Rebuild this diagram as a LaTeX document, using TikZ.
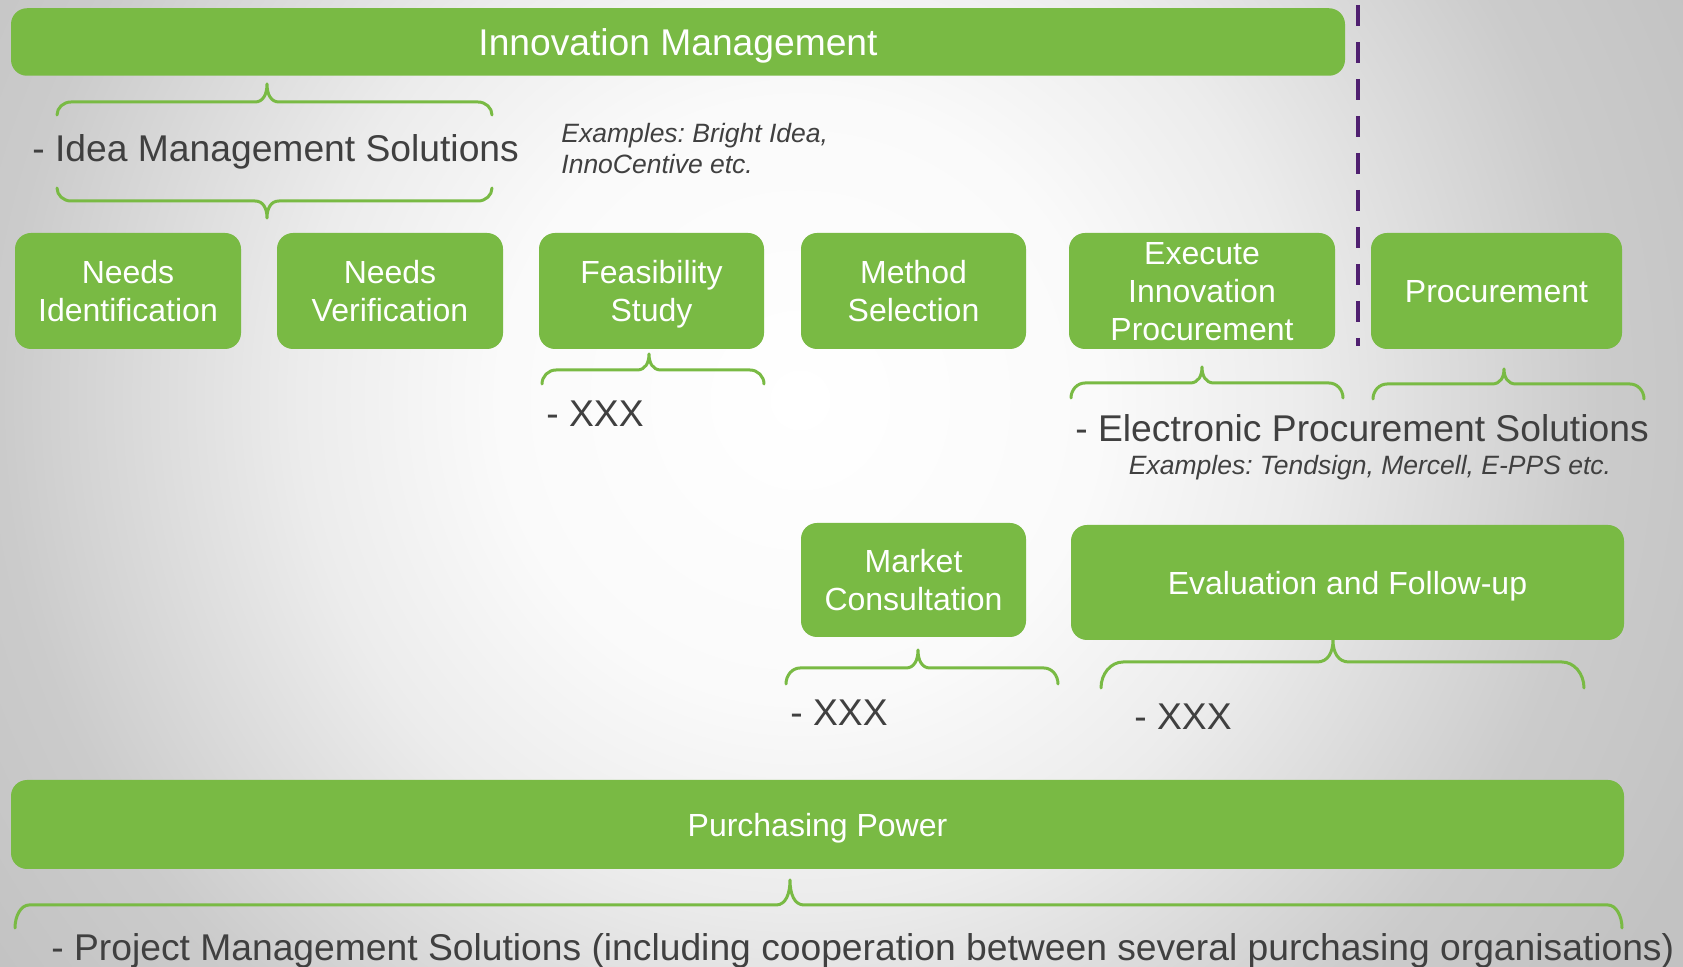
\documentclass[tikz,border=0pt]{standalone}
\usepackage{fontspec}
\setmainfont{Liberation Sans}
\frenchspacing
\definecolor{leaf}{RGB}{121,186,68}
\definecolor{ink}{RGB}{64,64,64}
\definecolor{plum}{RGB}{80,32,112}
\definecolor{bga}{RGB}{255,255,255}
\definecolor{bgb}{RGB}{250,250,250}
\definecolor{bgc}{RGB}{236,236,236}
\definecolor{bgd}{RGB}{203,203,203}
\definecolor{bge}{RGB}{194,194,194}
% the circle's rim sits at 25bp of a radial shading
\pgfdeclareradialshading{backglow}{\pgfpointorigin}{color(0bp)=(bga); color(7.5bp)=(bgb); color(12.5bp)=(bgc); color(20bp)=(bgd); color(25bp)=(bge); color(50bp)=(bge)}

% curly brace: x-left, x-right, x-tip, y-tip, y-bar, y-ends, corner size, cusp size
\newcommand\gbrace[8]{%
  \draw[bracestroke] (#1,#6) .. controls (#1,{#5+0.45*(#6-#5)}) and ({#1+0.45*#7},#5) .. ({#1+#7},#5) -- ({#3-#8},#5)
    .. controls ({#3-0.3*#8},#5) and (#3,{#5+0.45*(#4-#5)}) .. (#3,#4)
    .. controls (#3,{#5+0.45*(#4-#5)}) and ({#3+0.3*#8},#5) .. ({#3+#8},#5)
    -- ({#2-#7},#5) .. controls ({#2-0.45*#7},#5) and (#2,{#5+0.45*(#6-#5)}) .. (#2,#6);}

\tikzset{
  gbox/.style={fill=leaf, draw=none, rounded corners=8pt, text=white, align=center,
    inner sep=0pt, text depth=0pt, font=\fontsize{16}{19}\selectfont},
  boxsize/.style 2 args={minimum width=#1*0.5pt, minimum height=#2*0.5pt},
  bracestroke/.style={draw=leaf, line width=1.5pt, line cap=round, line join=round},
  bigtext/.style={text=ink, inner sep=0pt, font=\fontsize{18.62}{22}\selectfont},
  smalltext/.style={text=ink, inner sep=0pt, align=left, font=\fontsize{13.25}{15.5}\selectfont\itshape},
}

\begin{document}
\begin{tikzpicture}[x=0.5pt, y=-0.5pt]
  \useasboundingbox (0,0) rectangle (1683,967);
  % soft grey backdrop, lighter in the middle
  \begin{scope}
    \clip (0,0) rectangle (1683,967);
    \fill[bge] (0,0) rectangle (1683,967);
    \shade[shading=backglow] (800,400) circle (500pt);
  \end{scope}

  % separator between innovation and ordinary procurement
  \coordinate (sepTop) at (1358,5);
  \coordinate (sepBot) at (1358,346);
  \draw[plum, line width=2pt, dash pattern=on 10.5pt off 8pt] (sepTop) -- (sepBot);

  % top bar
  \node[gbox, boxsize={1334}{67.5}, font=\fontsize{18.6}{22}\selectfont] (innov) at (678,42) {Innovation Management};

  % process steps
  \node[gbox, boxsize={226}{116}] (needsid)  at (128,291)    {Needs\\Identification};
  \node[gbox, boxsize={226}{116}] (needsver) at (390,291)    {Needs\\Verification};
  \node[gbox, boxsize={225}{116}] (feas)     at (651.5,291)  {Feasibility\\Study};
  \node[gbox, boxsize={225}{116}] (method)   at (913.5,291)  {Method\\Selection};
  \node[gbox, boxsize={266}{116}] (execute)  at (1202,291)   {Execute\\Innovation\\Procurement};
  \node[gbox, boxsize={251}{116}] (procure)  at (1496.5,291) {Procurement};

  \node[gbox, boxsize={225}{114}] (market) at (913.5,580)  {Market\\Consultation};
  \node[gbox, boxsize={553}{115}] (evalfu) at (1347.5,582.5) {Evaluation and Follow-up};

  \node[gbox, boxsize={1613}{89}] (power) at (817.5,824.5) {Purchasing Power};

  % braces
  \gbrace{57}{492}{267}{84}{102}{115}{14}{12}
  \gbrace{57}{492}{267}{218}{201}{188}{14}{12}
  \gbrace{542}{764}{649}{354}{370}{384}{14}{12}
  \gbrace{1071}{1343}{1202}{367}{383}{398}{14}{12}
  \gbrace{1373}{1644}{1504}{369}{384}{399}{14}{12}
  \gbrace{786}{1058}{918}{650}{668}{684}{14}{12}
  \gbrace{1101}{1584}{1333}{640}{662}{688}{22}{16}
  \gbrace{15}{1622}{790}{880}{905}{928}{14}{14}

  % annotations
  \node[bigtext, anchor=base west] (idea) at (32,162) {- Idea Management Solutions};
  \node[smalltext, anchor=base west] (ideaex) at (561,174) {Examples: Bright Idea,\\InnoCentive etc.};
  \node[bigtext, anchor=base west] (feasx) at (546,427) {- XXX};
  \node[bigtext, anchor=base west] (eproc) at (1075,442) {- Electronic Procurement Solutions};
  \node[smalltext, anchor=base] (eprocex) at (1370,475) {Examples: Tendsign, Mercell, E-PPS etc.};
  \node[bigtext, anchor=base west] (marketx) at (790,726) {- XXX};
  \node[bigtext, anchor=base west] (evalx) at (1134,730) {- XXX};
  \node[bigtext, anchor=base west] (projm) at (51,960) {- Project Management Solutions (including cooperation between several purchasing organisations)};
\end{tikzpicture}
\end{document}
